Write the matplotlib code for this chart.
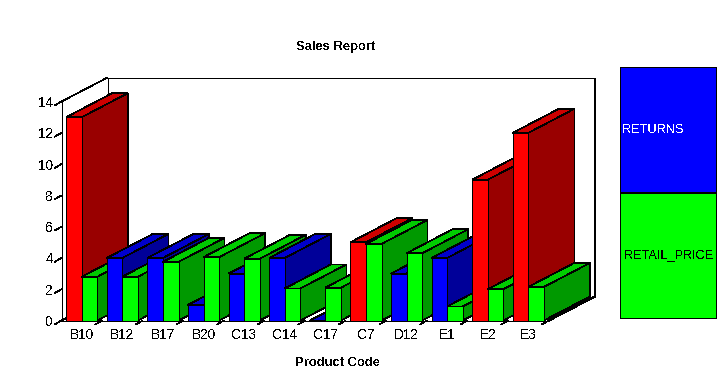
"""Sales report: fake-3D grouped bars, drawn by hand from the two value lists."""

import matplotlib
matplotlib.use("Agg")
import matplotlib.pyplot as plt
from matplotlib.patches import Polygon, Rectangle

plt.rcParams["font.family"] = ["Liberation Sans", "DejaVu Sans"]
plt.rcParams["text.antialiased"] = False

categories = ["B10", "B12", "B17", "B20", "C13", "C14",
              "C17", "C7", "D12", "E1", "E2", "E3"]
returns = [13, 4, 4, 1, 3, 4, 0, 5, 3, 4, 9, 12]
retail_price = [2.8, 2.8, 3.75, 4.05, 3.95, 2.05,
                2.1, 4.9, 4.3, 0.9, 2.0, 2.15]
y_ticks = [0, 2, 4, 6, 8, 10, 12, 14]
legend_labels = ["RETURNS", "RETAIL_PRICE"]

W, H = 725, 381
PX_X = 40.6   # px per category
PX_Y = 15.64  # px per value unit
LEFT, FLOOR = 61.5, 320.5

DX = 46 / PX_X     # depth offset in data units
DY = 24 / PX_Y
BAR_W = 15.6 / PX_X
HIGH_LIMIT = 5     # returns at or above this are flagged red

RED = ("#ff0000", "#cc0000", "#990000")
BLUE = ("#0000ff", "#0000cc", "#000099")
GREEN = ("#00ff00", "#00cc00", "#009900")
PX_LW = 0.5  # thin aliased line at dpi 100


def draw_bar(ax, x, val, colors):
    front, top, side = colors
    faces = [
        (side, [(x + BAR_W, 0), (x + BAR_W + DX, DY),
                (x + BAR_W + DX, val + DY), (x + BAR_W, val)]),
        (top, [(x, val), (x + DX, val + DY),
               (x + BAR_W + DX, val + DY), (x + BAR_W, val)]),
    ]
    if val > 0:
        faces.append((front, [(x, 0), (x + BAR_W, 0),
                              (x + BAR_W, val), (x, val)]))
    for color, pts in faces:
        ax.add_patch(Polygon(pts, closed=True, facecolor=color,
                             edgecolor="black", linewidth=PX_LW,
                             antialiased=False, clip_on=False, zorder=3))


def line(ax, xs, ys, lw=PX_LW):
    ax.plot(xs, ys, color="black", linewidth=lw, antialiased=False,
            clip_on=False, zorder=1, solid_capstyle="butt")


fig = plt.figure(figsize=(W / 100, H / 100), dpi=100)
ax = fig.add_axes([LEFT / W, (H - FLOOR) / H,
                   12 * PX_X / W, 14 * PX_Y / H])
ax.set_xlim(0, 12)
ax.set_ylim(0, 14)
ax.patch.set_visible(False)
for spine in ax.spines.values():
    spine.set_visible(False)

n = len(categories)
ymax = y_ticks[-1]

# frame: left wall, back wall, floor
line(ax, [0, 0], [0, ymax])
line(ax, [0, DX], [ymax, ymax + DY])
line(ax, [DX, DX], [DY, ymax + DY])
line(ax, [DX, n + DX], [ymax + DY, ymax + DY])
line(ax, [n + DX, n + DX], [DY, ymax + DY], lw=1.4)
line(ax, [DX, n + DX], [DY, DY])
line(ax, [0, DX], [0, DY])
line(ax, [0, n], [0, 0])
line(ax, [n, n + DX], [0, DY], lw=1.0)

# slanted tick marks
tick_dx, tick_dy = 7 / PX_X, 4 / PX_Y
for v in y_ticks:
    line(ax, [0, -tick_dx], [v, v - tick_dy])
for i in range(1, n + 1):
    line(ax, [i, i - tick_dx], [0, -tick_dy])

ax.set_yticks(y_ticks)
ax.set_yticklabels([str(v) for v in y_ticks], fontsize=9.8)
ax.set_xticks([i + 0.5 for i in range(n)])
ax.set_xticklabels(categories, fontsize=9.8)
ax.tick_params(axis="y", length=0, pad=6)
ax.tick_params(axis="x", length=0, pad=5.5)
ax.set_xlabel("Product Code", fontsize=9.4, fontweight="bold", labelpad=10.5,
              x=0.566)

for i in range(n):
    x0 = i + 0.5 - BAR_W
    first = RED if returns[i] >= HIGH_LIMIT else BLUE
    draw_bar(ax, x0, returns[i], first)
    draw_bar(ax, x0 + BAR_W, retail_price[i], GREEN)

fig.text(336 / W, 1 - 47 / H, "Sales Report", ha="center", va="center",
         fontsize=9.4, fontweight="bold")

# legend blocks
lax = fig.add_axes([620 / W, (H - 318) / H, 96 / W, 251 / H])
lax.set_xlim(0, 1)
lax.set_ylim(0, 2)
lax.axis("off")
lax.add_patch(Rectangle((0, 1), 1, 1, facecolor=BLUE[0], edgecolor="black",
                        linewidth=PX_LW, antialiased=False, clip_on=False))
lax.add_patch(Rectangle((0, 0), 1, 1, facecolor=GREEN[0], edgecolor="black",
                        linewidth=PX_LW, antialiased=False, clip_on=False))
lax.plot([0, 1], [1, 1], color="black", linewidth=1.4, antialiased=False)
lax.text(0.02, 1.5, legend_labels[0], color="white", ha="left", va="center",
         fontsize=9.2)
lax.text(0.51, 0.5, legend_labels[1], color="black", ha="center", va="center",
         fontsize=9.2)

fig.savefig("out.png", dpi=100)
